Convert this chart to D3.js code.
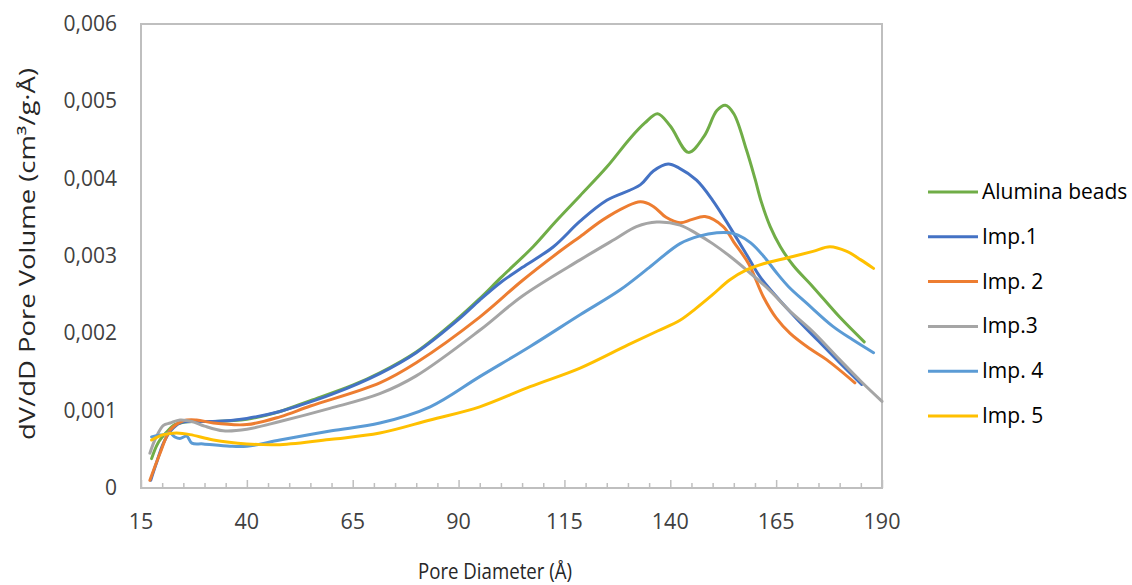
<!DOCTYPE html>
<html>
<head>
<meta charset="utf-8">
<script src="https://cdn.jsdelivr.net/npm/d3@7"></script>
<style>
  html, body { margin: 0; padding: 0; background: #fff; }
  svg { display: block; }
  text { font-family: "Open Sans", "Noto Sans", sans-serif; }
</style>
</head>
<body>
<svg id="chart" width="1132" height="585"></svg>
<script>
// Pore size distribution (BJH dV/dD) for the support and five impregnated samples
const seriesNames = ["Alumina beads", "Imp.1", "Imp. 2", "Imp.3", "Imp. 4", "Imp. 5"];
const seriesColors = ["#70AD47", "#4472C4", "#ED7D31", "#A5A5A5", "#5B9BD5", "#FFC000"];

const xAlumina = [17.5, 19, 21, 23, 25, 28, 32, 40, 47.8, 55, 65, 71.4, 80, 90, 95, 100, 107.6, 113, 118.7, 125, 130.5, 134, 137, 140, 144.3, 148, 151, 153, 155, 158, 160, 161.5, 163.6, 166, 169, 173.7, 180, 185.8];
const yAlumina = [0.00038, 0.00058, 0.00072, 0.00082, 0.00085, 0.00086, 0.00086, 0.00089, 0.00099, 0.00113, 0.00133, 0.00149, 0.00176, 0.0022, 0.00245, 0.00272, 0.00312, 0.00345, 0.00378, 0.00415, 0.00452, 0.00472, 0.00484, 0.00468, 0.00434, 0.00455, 0.00488, 0.00495, 0.00484, 0.00437, 0.004, 0.0037, 0.00338, 0.00312, 0.00288, 0.0026, 0.00221, 0.00189];

const xImp1 = [17.3, 18.5, 20.3, 22, 24.2, 28, 32, 40, 47.8, 52, 60, 71.4, 80, 90, 95, 100, 105, 112.4, 118.7, 125, 132.9, 136, 139.5, 142, 146.2, 150, 154, 158, 161.2, 165, 170, 175, 180, 185.2];
const yImp1 = [0.0001, 0.0003, 0.00058, 0.00074, 0.00084, 0.00086, 0.00086, 0.0009, 0.00099, 0.00106, 0.00121, 0.00148, 0.00175, 0.00218, 0.00243, 0.00266, 0.00285, 0.00312, 0.00345, 0.00372, 0.00392, 0.0041, 0.00419, 0.00414, 0.00398, 0.00372, 0.00338, 0.00302, 0.00273, 0.00248, 0.00218, 0.0019, 0.00162, 0.00134];

const xImp2 = [17.1, 19.5, 21.9, 25, 28.1, 32.1, 40, 47.8, 55, 71.4, 80, 95, 105, 114.4, 118.7, 125, 132.9, 136, 139, 142.3, 145, 148.2, 152.5, 155, 158.5, 162, 165, 168.3, 173, 176.9, 183.6];
const yImp2 = [0.0001, 0.00045, 0.00075, 0.00087, 0.00088, 0.00084, 0.00082, 0.00092, 0.00106, 0.00136, 0.00162, 0.00221, 0.00268, 0.00308, 0.00325, 0.0035, 0.0037, 0.00364, 0.0035, 0.00343, 0.00347, 0.00351, 0.00338, 0.00318, 0.0029, 0.00247, 0.0022, 0.002, 0.0018, 0.00166, 0.00136];

const xImp3 = [17.1, 18.5, 20.3, 21.9, 24.2, 27, 30, 34.4, 40, 47.8, 59.6, 71.4, 80, 95, 105, 118.7, 127, 132, 136.8, 142.3, 146.2, 150, 154, 158, 163.6, 168, 173.7, 180, 185, 190];
const yImp3 = [0.00045, 0.00065, 0.00081, 0.00084, 0.00088, 0.00086, 0.0008, 0.00074, 0.00076, 0.00086, 0.00103, 0.00122, 0.00145, 0.00204, 0.00248, 0.00295, 0.00322, 0.00338, 0.00344, 0.0034, 0.00329, 0.00316, 0.003, 0.00282, 0.00255, 0.0023, 0.00202, 0.00166, 0.00138, 0.00112];

const xImp4 = [17.5, 19, 20.3, 21.9, 23, 24.2, 25.8, 27, 29.7, 36, 40, 47.8, 60, 71.4, 83.3, 95, 106.9, 118.7, 128.1, 135, 142.3, 147, 151, 154, 156, 159, 162, 165, 168, 172.2, 178.4, 183, 188];
const yImp4 = [0.00066, 0.00068, 0.00069, 0.00071, 0.00066, 0.00064, 0.00067, 0.00058, 0.00057, 0.00054, 0.00054, 0.00062, 0.00074, 0.00084, 0.00105, 0.00144, 0.00183, 0.00224, 0.00256, 0.00285, 0.00316, 0.00326, 0.0033, 0.0033, 0.00327, 0.00317, 0.003, 0.00279, 0.0026, 0.00239, 0.00209, 0.00192, 0.00175];

const xImp5 = [17.5, 20.3, 23.4, 26.6, 32.1, 40, 47.8, 60, 71.4, 83.3, 95, 106.9, 118.7, 130, 137, 142.3, 146, 150, 154, 158, 162, 168, 173.7, 177.7, 181.7, 185, 188];
const yImp5 = [0.00062, 0.00069, 0.00071, 0.00069, 0.00062, 0.00057, 0.00056, 0.00063, 0.00071, 0.00088, 0.00105, 0.00131, 0.00155, 0.00185, 0.00203, 0.00217, 0.00232, 0.0025, 0.00269, 0.00282, 0.0029, 0.00298, 0.00306, 0.00312, 0.00306, 0.00295, 0.00284];

const xTicks = [15, 40, 65, 90, 115, 140, 165, 190];
const yTicks = [0, 0.001, 0.002, 0.003, 0.004, 0.005, 0.006];
const yTickLabels = ["0", "0,001", "0,002", "0,003", "0,004", "0,005", "0,006"];

const xTitle = "Pore Diameter (Å)";
const yTitle = "dV/dD Pore Volume (cm³/g·Å)";

const seriesX = [xAlumina, xImp1, xImp2, xImp3, xImp4, xImp5];
const seriesY = [yAlumina, yImp1, yImp2, yImp3, yImp4, yImp5];
const series = seriesNames.map((name, i) => ({
  name,
  color: seriesColors[i],
  points: seriesX[i].map((x, j) => [x, seriesY[i][j]])
}));

const svg = d3.select("#chart");
const plot = { left: 141, right: 882, top: 24, bottom: 488 };

const x = d3.scaleLinear().domain([15, 190]).range([plot.left, plot.right]);
const y = d3.scaleLinear().domain([0, 0.006]).range([plot.bottom, plot.top]);

// Bottom axis: minor ticks every 5 Å, major every 25 Å, drawn inside the frame
const minorTicks = d3.range(15, 190.1, 5);
const bottomAxis = d3.axisTop(x)
  .tickValues(minorTicks)
  .tickSize(5)
  .tickFormat("");
const axisG = svg.append("g")
  .attr("transform", `translate(0,${plot.bottom})`)
  .call(bottomAxis);
axisG.select(".domain").remove();
axisG.selectAll(".tick line")
  .attr("stroke", "#BFBFBF")
  .attr("stroke-width", 1.5)
  .attr("y2", d => (xTicks.includes(d) ? -8 : -5));

// Frame around the plot area
svg.append("rect")
  .attr("x", plot.left)
  .attr("y", plot.top)
  .attr("width", plot.right - plot.left)
  .attr("height", plot.bottom - plot.top)
  .attr("fill", "none")
  .attr("stroke", "#BFBFBF")
  .attr("stroke-width", 2);

// Tick labels (condensed horizontally, as in the original layout)
svg.append("g")
  .selectAll("text")
  .data(xTicks)
  .join("text")
  .attr("x", d => x(d))
  .attr("y", 529)
  .attr("text-anchor", "middle")
  .attr("font-size", 22)
  .attr("fill", "#404040")
  .attr("textLength", d => String(d).length * 12.3)
  .attr("lengthAdjust", "spacingAndGlyphs")
  .text(d => d);

svg.append("g")
  .selectAll("text")
  .data(yTicks)
  .join("text")
  .attr("x", 117)
  .attr("y", d => y(d) + 7)
  .attr("text-anchor", "end")
  .attr("font-size", 21)
  .attr("fill", "#404040")
  .text((d, i) => yTickLabels[i]);

// Axis titles
svg.append("text")
  .attr("x", 495)
  .attr("y", 579)
  .attr("text-anchor", "middle")
  .attr("font-size", 21)
  .attr("fill", "#262626")
  .attr("textLength", 154)
  .attr("lengthAdjust", "spacingAndGlyphs")
  .text(xTitle);

svg.append("text")
  .attr("transform", "translate(35,254) rotate(-90)")
  .attr("text-anchor", "middle")
  .attr("font-size", 21)
  .attr("fill", "#262626")
  .attr("textLength", 372)
  .attr("lengthAdjust", "spacingAndGlyphs")
  .text(yTitle);

// Smoothed series lines
const line = d3.line()
  .x(d => x(d[0]))
  .y(d => y(d[1]))
  .curve(d3.curveCatmullRom.alpha(0.5));

svg.append("g")
  .selectAll("path")
  .data(series)
  .join("path")
  .attr("d", d => line(d.points))
  .attr("fill", "none")
  .attr("stroke", d => d.color)
  .attr("stroke-width", 3)
  .attr("stroke-linecap", "round")
  .attr("stroke-linejoin", "round");

// Legend
const legend = svg.append("g")
  .selectAll("g")
  .data(series)
  .join("g")
  .attr("transform", (d, i) => `translate(928,${192 + i * 44.8})`);
legend.append("line")
  .attr("x1", 0).attr("x2", 50)
  .attr("stroke", d => d.color)
  .attr("stroke-width", 3);
legend.append("text")
  .attr("x", 54)
  .attr("y", 7)
  .attr("font-size", 21)
  .attr("fill", "#000")
  .text(d => d.name);
</script>
</body>
</html>
